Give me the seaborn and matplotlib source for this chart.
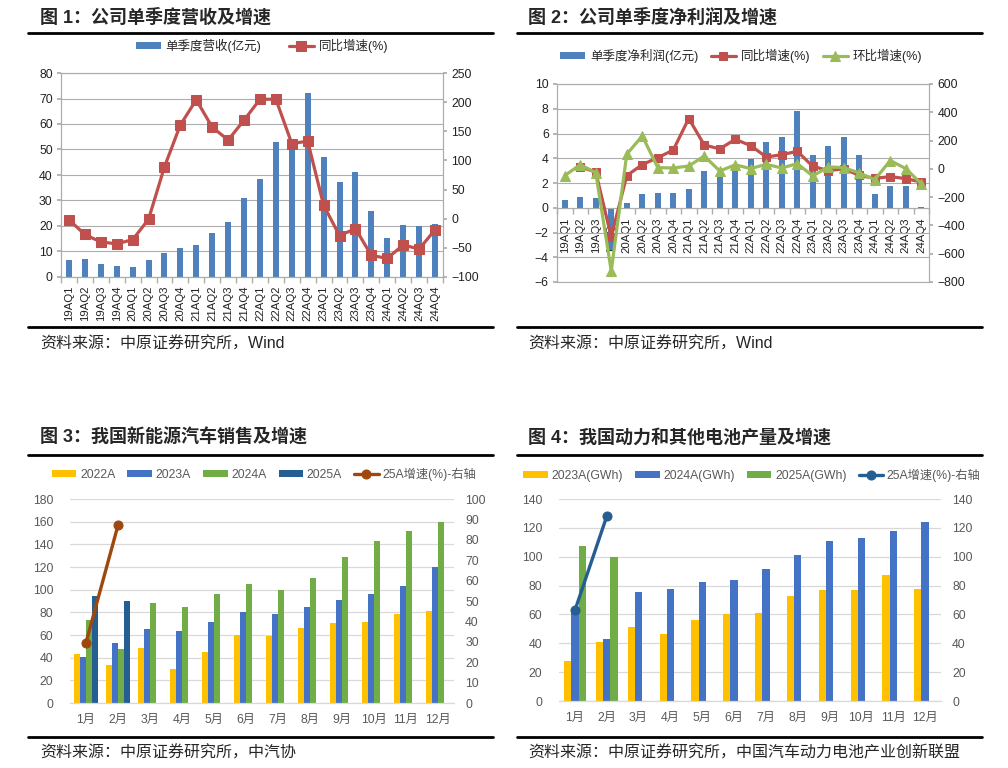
import numpy as np
import pandas as pd
import matplotlib
matplotlib.use('Agg')
import matplotlib.pyplot as plt
from matplotlib.lines import Line2D
from matplotlib.ticker import MultipleLocator
import seaborn as sns

# ---- data ----
quarters = ['19AQ1', '19AQ2', '19AQ3', '19AQ4', '20AQ1', '20AQ2', '20AQ3', '20AQ4',
            '21AQ1', '21AQ2', '21AQ3', '21AQ4', '22AQ1', '22AQ2', '22AQ3', '22AQ4',
            '23AQ1', '23AQ2', '23AQ3', '23AQ4', '24AQ1', '24AQ2', '24AQ3', '24AQ4']
revenue = [6.7, 7.1, 5.0, 4.3, 4.1, 6.7, 9.5, 11.4, 12.7, 17.3, 21.7, 31.0,
           38.4, 52.8, 49.8, 72.0, 47.2, 37.1, 41.3, 25.8, 15.2, 20.4, 19.9, 20.8]
revenue_yoy = [-2, -27, -40, -43, -36, -1, 89, 161, 204, 157, 135, 169,
               205, 205, 129, 133, 23, -29, -17, -63, -68, -45, -52, -19]

profit = [0.6, 0.9, 0.75, -3.4, 0.35, 1.1, 1.16, 1.16, 1.5, 3.0, 2.8, 3.4,
          3.9, 5.3, 5.7, 7.8, 4.3, 4.95, 5.7, 4.3, 1.1, 1.78, 1.78, 0.1]
profit_yoy = [np.nan, 16, -24, -480, -48, 30, 79, 133, 356, 169, 141, 209,
              164, 84, 100, 124, 18, -12, 0, -46, -67, -55, -69, -93]
profit_qoq = [-48, 30, -27, -722, 103, 233, 9, 6, 20, 91, -15, 28,
              2, 32, 6, 37, -50, 14, 9, -29, -76, 59, 2, -105]

months = ['1月', '2月', '3月', '4月', '5月', '6月', '7月', '8月', '9月', '10月', '11月', '12月']
nev_2022 = [43.0, 33.3, 48.3, 29.8, 44.8, 59.8, 58.9, 66.3, 70.4, 71.6, 78.4, 81.6]
nev_2023 = [40.7, 52.7, 65.4, 63.6, 71.9, 80.7, 78.1, 84.9, 90.7, 96.0, 102.8, 119.6]
nev_2024 = [72.8, 47.4, 88.4, 85.1, 96.0, 104.9, 99.6, 110.2, 128.5, 142.9, 151.4, 159.7]
nev_2025 = [94.6, 89.6]
nev_growth = [29.6, 87.1]

bat_2023 = [27.7, 41.1, 51.1, 46.7, 56.4, 60.1, 61.0, 73.0, 76.9, 76.9, 87.1, 77.4]
bat_2024 = [62.8, 43.0, 75.5, 77.8, 82.2, 84.1, 91.7, 100.9, 110.9, 112.7, 117.6, 124.3]
bat_2025 = [107.2, 100.0]
bat_growth = [62.8, 128.0]

sns.set_theme(style='white')
plt.rcParams['font.family'] = ['Liberation Sans', 'Noto Sans CJK SC']
plt.rcParams['axes.unicode_minus'] = True

W, H = 1008, 768
fig = plt.figure(figsize=(W / 100, H / 100), dpi=100)
fig.patch.set_facecolor('white')


def box(l, t, r, b):
    return [l / W, 1 - b / H, (r - l) / W, (b - t) / H]


def hline(x0, x1, y, lw=2.0):
    fig.add_artist(Line2D([x0 / W, x1 / W], [1 - y / H, 1 - y / H], color='black', lw=lw))


def put(x, y, s, **kw):
    fig.text(x / W, 1 - y / H, s, va='center', ha='left', **kw)


def collect_legend(*axes):
    hs, ls = [], []
    for a in axes:
        h, l = a.get_legend_handles_labels()
        hs += h
        ls += l
        if a.get_legend() is not None:
            a.get_legend().remove()
    return hs, ls


# ---- frames, titles, sources ----
for x0, x1, tx, title, src in [
        (28, 493, 40, '图 1：公司单季度营收及增速', '资料来源：中原证券研究所，Wind'),
        (517, 982, 528, '图 2：公司单季度净利润及增速', '资料来源：中原证券研究所，Wind')]:
    put(tx, 17, title, fontsize=13, fontweight='bold')
    hline(x0, x1, 33)
    hline(x0, x1, 327)
    put(tx, 344, src, fontsize=11.5)
for x0, x1, tx, title, src in [
        (28, 493, 40, '图 3：我国新能源汽车销售及增速', '资料来源：中原证券研究所，中汽协'),
        (517, 982, 528, '图 4：我国动力和其他电池产量及增速', '资料来源：中原证券研究所，中国汽车动力电池产业创新联盟')]:
    put(tx, 438, title, fontsize=13, fontweight='bold')
    hline(x0, x1, 455)
    hline(x0, x1, 737)
    put(tx, 753, src, fontsize=11.5)

GRID = '#ADADAD'


def style_boxed(ax, axr, n):
    ax.set_xlim(-0.5, n - 0.5)
    ax.grid(axis='y', color=GRID, lw=0.8)
    ax.set_axisbelow(True)
    for a in (ax, axr):
        for s in a.spines.values():
            s.set_color(GRID)
            s.set_linewidth(0.8)
        a.set_ylabel('')
    ax.set_xlabel('')
    ax.set_xticks(np.arange(n + 1) - 0.5, minor=True)
    ax.tick_params(axis='x', which='major', length=0, labelrotation=90, labelsize=8.2,
                   pad=6, colors='#222222')
    ax.tick_params(axis='x', which='minor', bottom=True, length=4, color=GRID)
    ax.tick_params(axis='y', left=True, length=3, color=GRID, labelsize=8.8, colors='#222222', pad=3)
    axr.tick_params(axis='y', right=True, length=3, color=GRID, labelsize=8.8, colors='#222222', pad=3)


# ---- panel 1 ----
ax1 = fig.add_axes(box(61, 73, 443, 277))
sns.barplot(x=quarters, y=revenue, color='#4F81BD', saturation=1, width=0.38, linewidth=0,
            ax=ax1, label='单季度营收(亿元)')
ax1r = ax1.twinx()
sns.lineplot(x=np.arange(len(quarters)), y=revenue_yoy, ax=ax1r, color='#C0504D',
             lw=2.3, marker='s', ms=6.5, mec='#C0504D', label='同比增速(%)')
ax1.set_ylim(0, 80)
ax1.yaxis.set_major_locator(MultipleLocator(10))
ax1r.set_ylim(-100, 250)
ax1r.yaxis.set_major_locator(MultipleLocator(50))
style_boxed(ax1, ax1r, len(quarters))
h, l = collect_legend(ax1, ax1r)
fig.legend(h, l, loc='center', bbox_to_anchor=(262 / W, 1 - 46 / H), ncol=2, frameon=False,
           fontsize=9, handlelength=2.0, handleheight=0.45, columnspacing=2.2, handletextpad=0.4)

# ---- panel 2 ----
ax2 = fig.add_axes(box(557, 84, 929, 282))
sns.barplot(x=quarters, y=profit, color='#4F81BD', saturation=1, width=0.4, linewidth=0,
            ax=ax2, label='单季度净利润(亿元)')
ax2r = ax2.twinx()
sns.lineplot(x=np.arange(len(quarters)), y=profit_yoy, ax=ax2r, color='#C0504D',
             lw=2.3, marker='s', ms=6, mec='#C0504D', label='同比增速(%)')
sns.lineplot(x=np.arange(len(quarters)), y=profit_qoq, ax=ax2r, color='#9BBB59',
             lw=2.3, marker='^', ms=7, mec='#9BBB59', label='环比增速(%)')
ax2.set_ylim(-6, 10)
ax2.yaxis.set_major_locator(MultipleLocator(2))
ax2r.set_ylim(-800, 600)
ax2r.yaxis.set_major_locator(MultipleLocator(200))
style_boxed(ax2, ax2r, len(quarters))
ax2.spines['bottom'].set_position(('data', 0))
ax2.tick_params(axis='x', which='major', pad=7)
h, l = collect_legend(ax2, ax2r)
fig.legend(h, l, loc='center', bbox_to_anchor=(741 / W, 1 - 56 / H), ncol=3, frameon=False,
           fontsize=9, handlelength=2.0, handleheight=0.45, columnspacing=1.0, handletextpad=0.4)

# ---- panels 3 & 4 ----
LIGHT = '#D9D9D9'
TXT = '#595959'


def style_open(ax, axr):
    ax.set_xlim(-0.5, 11.5)
    ax.grid(axis='y', color=LIGHT, lw=0.9)
    ax.set_axisbelow(True)
    for a in (ax, axr):
        for k, s in a.spines.items():
            s.set_visible(False)
        a.set_ylabel('')
    ax.spines['bottom'].set_visible(True)
    ax.spines['bottom'].set_color(LIGHT)
    ax.spines['bottom'].set_linewidth(0.9)
    ax.set_xlabel('')
    ax.tick_params(axis='x', length=0, labelsize=8.8, colors=TXT, pad=8)
    ax.tick_params(axis='y', length=0, labelsize=8.8, colors=TXT, pad=12)
    axr.tick_params(axis='y', length=0, labelsize=8.8, colors=TXT, pad=8)


def long_table(series):
    rows = []
    for name, vals in series:
        for m, v in zip(months, vals):
            rows.append({'月份': m, '年份': name, '值': v})
    return pd.DataFrame(rows)


nev = long_table([('2022A', nev_2022), ('2023A', nev_2023), ('2024A', nev_2024), ('2025A', nev_2025)])
ax3 = fig.add_axes(box(70, 499, 454, 703))
sns.barplot(data=nev, x='月份', y='值', hue='年份', order=months,
            hue_order=['2022A', '2023A', '2024A', '2025A'],
            palette=['#FFC000', '#4472C4', '#70AD47', '#255E91'], saturation=1,
            width=0.72, gap=0, linewidth=0, errorbar=None, ax=ax3)
ax3r = ax3.twinx()
sns.lineplot(x=np.arange(len(nev_growth)), y=nev_growth, ax=ax3r, color='#9E480E',
             lw=2.4, marker='o', ms=6.5, mec='#9E480E', label='25A增速(%)-右轴')
ax3.set_ylim(0, 180)
ax3.yaxis.set_major_locator(MultipleLocator(20))
ax3r.set_ylim(0, 100)
ax3r.yaxis.set_major_locator(MultipleLocator(10))
style_open(ax3, ax3r)
h, l = collect_legend(ax3, ax3r)
leg = fig.legend(h, l, loc='center', bbox_to_anchor=(264 / W, 1 - 474 / H), ncol=5, frameon=False,
                 fontsize=8.8, handlelength=2.0, handleheight=0.45, columnspacing=1.0, handletextpad=0.3)
for t in leg.get_texts():
    t.set_color(TXT)

bat = long_table([('2023A(GWh)', bat_2023), ('2024A(GWh)', bat_2024), ('2025A(GWh)', bat_2025)])
ax4 = fig.add_axes(box(559, 499, 941, 701))
sns.barplot(data=bat, x='月份', y='值', hue='年份', order=months,
            hue_order=['2023A(GWh)', '2024A(GWh)', '2025A(GWh)'],
            palette=['#FFC000', '#4472C4', '#70AD47'], saturation=1,
            width=0.68, gap=0, linewidth=0, errorbar=None, ax=ax4)
ax4r = ax4.twinx()
sns.lineplot(x=np.arange(len(bat_growth)), y=bat_growth, ax=ax4r, color='#255E91',
             lw=2.4, marker='o', ms=6.5, mec='#255E91', label='25A增速(%)-右轴')
ax4.set_ylim(0, 140)
ax4.yaxis.set_major_locator(MultipleLocator(20))
ax4r.set_ylim(0, 140)
ax4r.yaxis.set_major_locator(MultipleLocator(20))
style_open(ax4, ax4r)
h, l = collect_legend(ax4, ax4r)
leg = fig.legend(h, l, loc='center', bbox_to_anchor=(752 / W, 1 - 475 / H), ncol=4, frameon=False,
                 fontsize=8.8, handlelength=2.0, handleheight=0.45, columnspacing=1.0, handletextpad=0.3)
for t in leg.get_texts():
    t.set_color(TXT)

fig.savefig('out.png', dpi=100, facecolor='white')
